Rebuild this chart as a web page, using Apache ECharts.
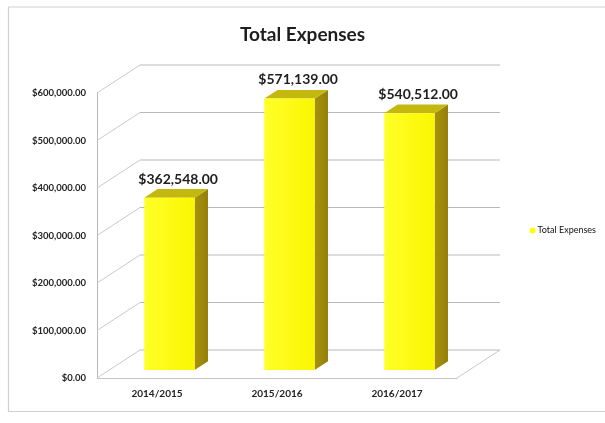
<!DOCTYPE html>
<html>
<head>
<meta charset="utf-8">
<script src="https://cdn.jsdelivr.net/npm/echarts@6/dist/echarts.min.js"></script>
<style>
  html, body { margin: 0; padding: 0; background: #ffffff; }
  #chart { width: 605px; height: 423px; }
</style>
</head>
<body>
<div id="chart"></div>
<script>
// Fiscal years and total expenses per year
const categories = ['2014/2015', '2015/2016', '2016/2017'];
const totalExpenses = [362548, 571139, 540512];
// Value axis ticks (walls and floor of the 3D box follow these)
const yTicks = [0, 100000, 200000, 300000, 400000, 500000, 600000];

// Depth vector of the 3D box (front plane -> back wall), in pixels
const DX = 43, DY = -28;
// Bar position inside the depth of the box
const F0 = 0.29, F1 = 0.60;

const FONT = 'Lato, "Open Sans", sans-serif';

function money(v) {
  return '$' + v.toLocaleString('en-US', { minimumFractionDigits: 2, maximumFractionDigits: 2 });
}

const chart = echarts.init(document.getElementById('chart'), null, { renderer: 'canvas' });

const diagStyle = { stroke: '#cacaca', lineWidth: 1 };
const backStyle = { stroke: '#b9b9b9', lineWidth: 1 };

function renderWalls(params, api) {
  const cs = params.coordSys;
  const v = api.value(1);
  const y = api.coord([0, v])[1];
  const xl = cs.x, xr = cs.x + cs.width;
  const children = [
    { type: 'line', shape: { x1: xl, y1: y, x2: xl + DX, y2: y + DY }, style: diagStyle },
    { type: 'line', shape: { x1: xl + DX, y1: y + DY, x2: xr + DX, y2: y + DY }, style: backStyle }
  ];
  if (v === 0) {
    children.push({ type: 'line', shape: { x1: xr, y1: y, x2: xr + DX, y2: y + DY }, style: diagStyle });
  }
  return { type: 'group', children: children };
}

function renderBars(params, api) {
  const idx = api.value(0);
  const val = api.value(1);
  const top = api.coord([idx, val]);
  const base = api.coord([idx, 0]);
  const band = api.size([1, 0])[0];
  const w = band * 0.42;
  const ox = DX * F0, oy = DY * F0;
  const ddx = DX * (F1 - F0), ddy = DY * (F1 - F0);
  const x0 = top[0] - w / 2 + ox, x1 = top[0] + w / 2 + ox;
  const yt = top[1] + oy, yb = base[1] + oy;
  return {
    type: 'group',
    children: [
      { // side face
        type: 'polygon',
        shape: { points: [[x1, yt], [x1 + ddx, yt + ddy], [x1 + ddx, yb + ddy], [x1, yb]] },
        style: { fill: new echarts.graphic.LinearGradient(0, 0, 1, 0, [
          { offset: 0, color: '#a8920c' }, { offset: 1, color: '#94800a' }]) }
      },
      { // top face
        type: 'polygon',
        shape: { points: [[x0, yt], [x1, yt], [x1 + ddx, yt + ddy], [x0 + ddx, yt + ddy]] },
        style: { fill: '#c4b80e' }
      },
      { // front face
        type: 'rect',
        shape: { x: x0, y: yt, width: x1 - x0, height: yb - yt },
        style: { fill: new echarts.graphic.LinearGradient(0, 0, 1, 0, [
          { offset: 0, color: '#ffff2a' }, { offset: 1, color: '#fbf600' }]) }
      },
      { // value label
        type: 'text',
        style: {
          x: (x0 + x1) / 2 + ddx / 2 + 2,
          y: yt + ddy - 3,
          text: money(val),
          fill: '#1e1e1e',
          font: 'bold 14px ' + FONT,
          align: 'center',
          verticalAlign: 'bottom'
        }
      }
    ]
  };
}

chart.setOption({
  animation: false,
  backgroundColor: '#ffffff',
  title: {
    text: 'Total Expenses',
    left: 'center',
    top: 20,
    textStyle: { fontFamily: FONT, fontWeight: 'bold', fontSize: 19, color: '#1e1e1e' }
  },
  legend: {
    right: 4,
    top: 221,
    itemWidth: 6,
    itemHeight: 6,
    itemGap: 2,
    icon: 'circle',
    data: [{ name: 'Total Expenses', itemStyle: { color: '#ffff00' } }],
    textStyle: { fontFamily: FONT, fontSize: 9, color: '#111', padding: [0, 0, 0, -3] }
  },
  graphic: [{
    type: 'polyline',
    shape: { points: [[605, 7], [8.5, 7], [8.5, 411.5], [605, 411.5]] },
    style: { stroke: '#cfcfcf', fill: null, lineWidth: 1.2 },
    silent: true
  }],
  grid: { left: 97, right: 148, top: 93, bottom: 45 },
  xAxis: {
    type: 'category',
    data: categories,
    axisLine: { show: true, lineStyle: { color: '#c4c4c4' } },
    axisTick: { show: false },
    axisLabel: { fontFamily: FONT, fontSize: 10, fontWeight: 'bold', color: '#222', margin: 11 }
  },
  yAxis: {
    type: 'value',
    min: 0,
    max: 600000,
    interval: 100000,
    axisLine: { show: true, lineStyle: { color: '#b8b8b8' } },
    axisTick: { show: false },
    splitLine: { show: false },
    axisLabel: {
      fontFamily: FONT, fontSize: 9.5, fontWeight: 'bold', color: '#222', margin: 11,
      formatter: v => money(v)
    }
  },
  series: [
    {
      name: 'walls',
      type: 'custom',
      silent: true,
      renderItem: renderWalls,
      data: yTicks.map(v => [0, v]),
      encode: { x: 0, y: 1 },
      z: 1
    },
    {
      name: 'Total Expenses',
      type: 'custom',
      renderItem: renderBars,
      itemStyle: { color: '#ffff00' },
      data: totalExpenses.map((v, i) => [i, v]),
      encode: { x: 0, y: 1 },
      z: 3
    }
  ]
});
</script>
</body>
</html>
